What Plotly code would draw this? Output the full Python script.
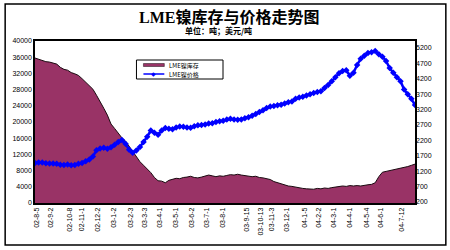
import plotly.graph_objects as go
import pandas as pd
from datetime import datetime

# weekly observation dates
dates = pd.date_range("2002-08-02", periods=106, freq="7D")

stock = [35800, 35500, 35300, 34900, 34800, 34500, 34300, 33500, 33000, 32800,
         32200, 31900, 31500, 30700, 29900, 29100, 28100, 26600, 25100, 23400,
         21700, 19500, 18400, 17300, 16100, 15300, 14000, 12600, 11400, 10200,
         9300, 8400, 7500, 6300, 5500, 5400, 5000, 5600, 5900, 6100,
         6000, 6300, 6400, 6600, 6300, 6200, 6400, 6700, 6900, 6700,
         6500, 6700, 6600, 6800, 7000, 6900, 7100, 6900, 6800, 6700,
         6500, 6600, 6300, 6200, 6000, 5800, 5300, 5000, 4700, 4500,
         4200, 4100, 3900, 3700, 3600, 3500, 3500, 3400, 3600, 3500,
         3700, 3600, 3800, 3900, 4000, 4200, 4100, 4300, 4200, 4300,
         4200, 4400, 4500, 4600, 5000, 6500, 7600, 7800, 8000, 8100,
         8300, 8500, 8700, 9000, 9300, 9600]

price = [1470, 1480, 1480, 1460, 1450, 1450, 1440, 1410, 1400, 1420,
         1390, 1400, 1440, 1470, 1520, 1580, 1680, 1880, 1940, 1960,
         1930, 1980, 2060, 2150, 2210, 2090, 1900, 1800, 1870, 1990,
         2150, 2320, 2520, 2450, 2380, 2520, 2600, 2580, 2560, 2620,
         2650, 2640, 2620, 2610, 2660, 2690, 2700, 2720, 2750, 2760,
         2800, 2820, 2840, 2880, 2900, 2880, 2870, 2880, 2920, 2950,
         3000, 3060, 3120, 3180, 3250, 3300, 3320, 3340, 3360, 3400,
         3440, 3460, 3550, 3590, 3620, 3660, 3700, 3740, 3770, 3800,
         3900, 4000, 4120, 4250, 4380, 4450, 4480, 4300, 4400, 4650,
         4850, 4950, 5040, 5060, 5100, 5000, 4920, 4780, 4550, 4400,
         4250, 4120, 3850, 3700, 3550, 3350]

tick_labels = ["02-8-5", "02-9-2", "02-10-8", "02-11-1", "02-12-2", "03-1-2",
               "03-2-3", "03-3-3", "03-4-1", "03-5-1", "03-6-2", "03-7-1",
               "03-8-1", "03-9-15", "03-10-13", "03-11-3", "03-12-1", "04-1-5",
               "04-2-2", "04-3-1", "04-4-1", "04-5-4", "04-6-1", "04-7-12"]
tick_vals = [datetime.strptime("20" + s, "%Y-%m-%d") for s in tick_labels]

left_ticks = [0, 4000, 8000, 12000, 16000, 20000, 24000, 28000, 32000, 36000, 40000]
right_ticks = [200, 700, 1200, 1700, 2200, 2700, 3200, 3700, 4200, 4700, 5200]

title = "LME镍库存与价格走势图"
subtitle = "单位：吨；美元/吨"
name_stock = "LME镍库存"
name_price = "LME镍价格"

STOCK_COLOR = "#993366"
PRICE_COLOR = "#0000FF"

fig = go.Figure()
fig.add_trace(go.Scatter(
    x=dates, y=stock, name=name_stock, mode="lines", fill="tozeroy",
    fillcolor=STOCK_COLOR, line=dict(color="#1a0a10", width=1), yaxis="y"))
fig.add_trace(go.Scatter(
    x=dates, y=price, name=name_price, mode="lines+markers",
    line=dict(color=PRICE_COLOR, width=2.5),
    marker=dict(symbol="diamond", size=5, color=PRICE_COLOR), yaxis="y2"))

tickfont = dict(family="Liberation Sans, Arial, sans-serif", size=7, color="black")


def px(x):
    return (x - 33) / 382


def py(y):
    return (203 - y) / 162


shapes = [
    # outer chart frame
    dict(type="rect", xref="paper", yref="paper",
         x0=px(3), x1=px(446), y0=py(245), y1=py(4),
         line=dict(color="black", width=1.5), fillcolor="rgba(0,0,0,0)"),
    # compact legend box
    dict(type="rect", xref="paper", yref="paper",
         x0=px(135), x1=px(222), y0=py(79), y1=py(60),
         line=dict(color="black", width=1), fillcolor="white"),
    dict(type="rect", xref="paper", yref="paper",
         x0=px(142), x1=px(163), y0=py(66.5), y1=py(63.5),
         line=dict(color="#1a0a10", width=0.5), fillcolor=STOCK_COLOR),
    dict(type="line", xref="paper", yref="paper",
         x0=px(142), x1=px(163), y0=py(74), y1=py(74),
         line=dict(color=PRICE_COLOR, width=1.5)),
]

annotations = [
    dict(text="<b>" + title + "</b>", xref="paper", yref="paper",
         x=px(228), y=py(17), xanchor="center", yanchor="middle",
         showarrow=False,
         font=dict(family="Liberation Serif, Noto Sans CJK SC", size=16,
                   color="black")),
    dict(text="<b>" + subtitle + "</b>", xref="paper", yref="paper",
         x=px(217), y=py(31), xanchor="center", yanchor="middle",
         showarrow=False,
         font=dict(family="Noto Sans CJK SC", size=8, color="black")),
    dict(text=name_stock, xref="paper", yref="paper",
         x=px(166), y=py(65), xanchor="left", yanchor="middle",
         showarrow=False,
         font=dict(family="Noto Sans CJK SC", size=6, color="black")),
    dict(text=name_price, xref="paper", yref="paper",
         x=px(166), y=py(74), xanchor="left", yanchor="middle",
         showarrow=False,
         font=dict(family="Noto Sans CJK SC", size=6, color="black")),
    dict(text="◆", xref="paper", yref="paper",
         x=px(152.5), y=py(74), xanchor="center", yanchor="middle",
         showarrow=False, font=dict(size=6, color=PRICE_COLOR)),
]

fig.update_layout(
    width=450, height=250,
    margin=dict(l=33, r=35, t=41, b=47, pad=0),
    paper_bgcolor="white", plot_bgcolor="white",
    showlegend=False,
    xaxis=dict(range=[dates[0], dates[-1]], tickmode="array",
               tickvals=tick_vals, ticktext=tick_labels, tickangle=-90,
               tickfont=tickfont, showgrid=False, zeroline=False,
               showline=True, linecolor="black", linewidth=1.5, mirror=True,
               ticks=""),
    yaxis=dict(range=[0, 40000], tickmode="array", tickvals=left_ticks,
               ticktext=[str(v) for v in left_ticks], tickfont=tickfont,
               showgrid=False, zeroline=False, showline=True,
               linecolor="black", linewidth=1.5, mirror=True, ticks=""),
    yaxis2=dict(range=[168, 5428], overlaying="y", side="right",
                tickmode="array", tickvals=right_ticks,
                ticktext=[str(v) for v in right_ticks], tickfont=tickfont,
                showgrid=False, zeroline=False, showline=False, ticks=""),
    annotations=annotations,
    shapes=shapes,
)

fig.write_html("out.html")
